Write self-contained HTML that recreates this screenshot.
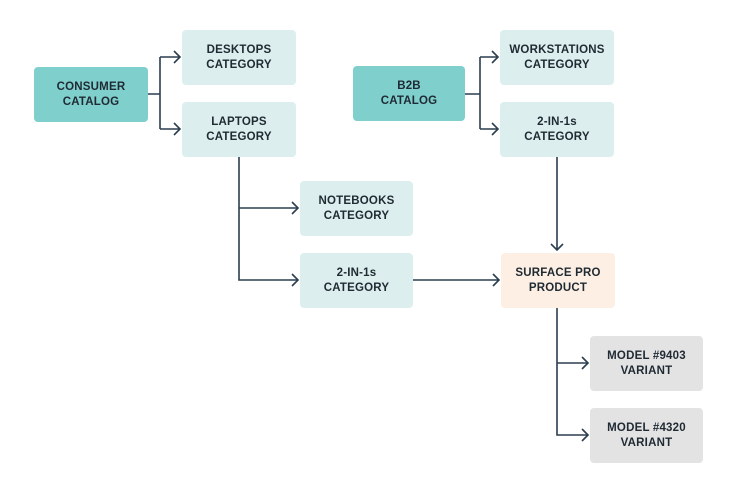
<!DOCTYPE html>
<html><head><style>
body{margin:0;width:744px;height:500px;background:#fff;position:relative;overflow:hidden;font-family:"Liberation Sans",sans-serif}
.b{position:absolute;width:114px;height:55px;border-radius:4px;display:flex;align-items:center;justify-content:center;text-align:center;font-size:11.5px;font-weight:bold;color:#1f2a33;line-height:15px;letter-spacing:0.2px}
.t{background:#7fcfcc}.l{background:#dcefee}.o{background:#fdefe4}.g{background:#e3e3e4}
svg{position:absolute;left:0;top:0}
</style></head><body>
<svg width="744" height="500" fill="none" stroke="#2b3e50" stroke-width="1.6">
<path d="M148 94H160M160 57V129M160 57H180M160 129H180"/>
<path d="M174 51l6 6-6 6M174 123l6 6-6 6"/>
<path d="M465 94H480M480 57V129M480 57H498M480 129H498"/>
<path d="M492 51l6 6-6 6M492 123l6 6-6 6"/>
<path d="M239 157V280H298M239 208H298"/>
<path d="M292 202l6 6-6 6M292 274l6 6-6 6"/>
<path d="M413 280H499M493 274l6 6-6 6"/>
<path d="M557 157V250M551 244l6 6 6-6"/>
<path d="M557 308V435H588M557 363H588"/>
<path d="M582 357l6 6-6 6M582 429l6 6-6 6"/>
</svg>
<div class="b t" style="left:34px;top:67px">CONSUMER<br>CATALOG</div>
<div class="b l" style="left:182px;top:30px">DESKTOPS<br>CATEGORY</div>
<div class="b l" style="left:182px;top:102px">LAPTOPS<br>CATEGORY</div>
<div class="b t" style="left:353px;top:66px;width:112px">B2B<br>CATALOG</div>
<div class="b l" style="left:500px;top:30px">WORKSTATIONS<br>CATEGORY</div>
<div class="b l" style="left:500px;top:102px">2-IN-1s<br>CATEGORY</div>
<div class="b l" style="left:300px;top:181px;width:113px">NOTEBOOKS<br>CATEGORY</div>
<div class="b l" style="left:300px;top:253px;width:113px">2-IN-1s<br>CATEGORY</div>
<div class="b o" style="left:501px;top:253px">SURFACE PRO<br>PRODUCT</div>
<div class="b g" style="left:590px;top:336px;width:113px">MODEL #9403<br>VARIANT</div>
<div class="b g" style="left:590px;top:408px;width:113px">MODEL #4320<br>VARIANT</div>
</body></html>
